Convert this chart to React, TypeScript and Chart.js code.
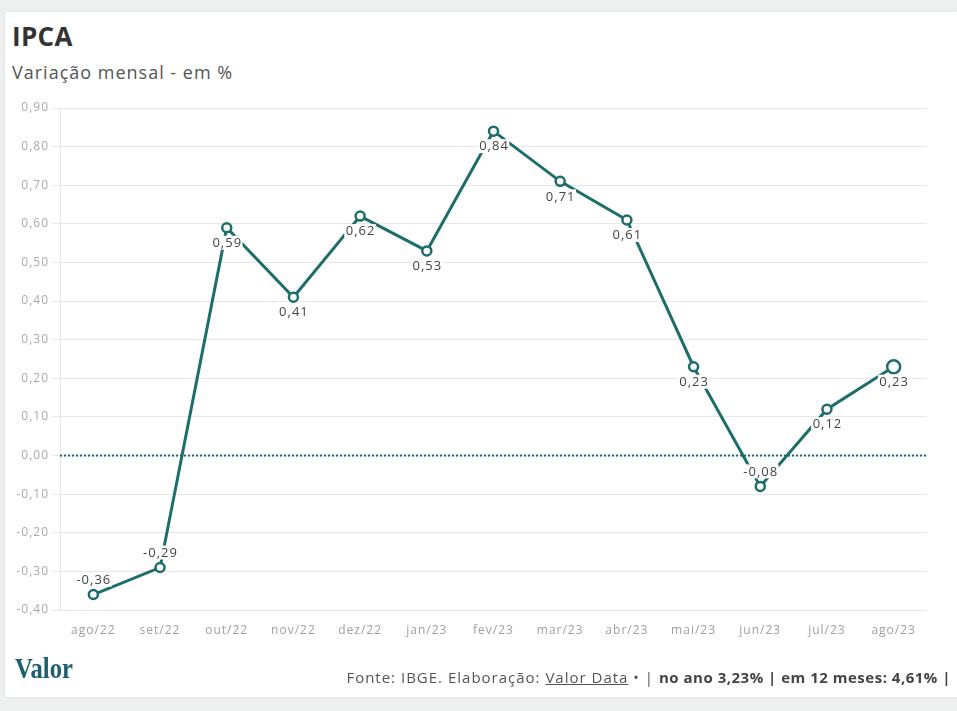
import React, { useEffect, useRef } from "react";
import { Chart, registerables } from "chart.js";

Chart.register(...registerables);

const categories = ["ago/22", "set/22", "out/22", "nov/22", "dez/22", "jan/23", "fev/23", "mar/23", "abr/23", "mai/23", "jun/23", "jul/23", "ago/23"];
const values = [-0.36, -0.29, 0.59, 0.41, 0.62, 0.53, 0.84, 0.71, 0.61, 0.23, -0.08, 0.12, 0.23];
const yMin = -0.4;
const yMax = 0.9;
const yStep = 0.1;

const TEAL = "#1d6e6b";

const fmt = (v: number) => {
  const x = Math.abs(v) < 1e-9 ? 0 : v;
  return x.toFixed(2).replace(".", ",");
};

const spacingPlugin = {
  id: "spacing",
  beforeUpdate(chart: any) {
    chart.ctx.letterSpacing = "1px";
  },
  beforeDraw(chart: any) {
    chart.ctx.letterSpacing = "1px";
  },
};

const zeroLinePlugin = {
  id: "zeroLine",
  beforeDatasetsDraw(chart: any) {
    const { ctx, chartArea, scales } = chart;
    const y = scales.y.getPixelForValue(0);
    ctx.save();
    ctx.strokeStyle = TEAL;
    ctx.lineWidth = 2;
    ctx.setLineDash([2, 2]);
    ctx.beginPath();
    ctx.moveTo(chartArea.left, y);
    ctx.lineTo(chartArea.right, y);
    ctx.stroke();
    ctx.restore();
  },
};

const labelPlugin = {
  id: "valueLabels",
  afterDatasetsDraw(chart: any) {
    const { ctx } = chart;
    const meta = chart.getDatasetMeta(0);
    ctx.save();
    ctx.letterSpacing = "1px";
    ctx.font = "13px 'Open Sans'";
    ctx.textAlign = "center";
    ctx.textBaseline = "middle";
    meta.data.forEach((pt: any, i: number) => {
      const v = values[i];
      const text = fmt(v);
      const dy = v < 0 ? -15 : 15;
      const x = pt.x;
      const y = pt.y + dy;
      const w = ctx.measureText(text).width;
      ctx.fillStyle = "#ffffff";
      ctx.fillRect(x - w / 2 - 1, y - 7, w + 2, 14);
      ctx.fillStyle = "#444444";
      ctx.fillText(text, x + 0.5, y + 0.5);
    });
    ctx.restore();
  },
};

export default function App() {
  const ref = useRef<HTMLCanvasElement>(null);

  useEffect(() => {
    if (!ref.current) return;
    const last = values.length - 1;
    const chart = new Chart(ref.current, {
      type: "line",
      data: {
        labels: categories,
        datasets: [
          {
            data: values,
            borderColor: TEAL,
            borderWidth: 3,
            backgroundColor: "#ffffff",
            pointBackgroundColor: "#ffffff",
            pointBorderColor: TEAL,
            pointBorderWidth: 2.5,
            pointRadius: values.map((_, i) => (i === last ? 6.5 : 4.5)),
            tension: 0,
            fill: false,
          },
        ],
      },
      options: {
        animation: false,
        responsive: false,
        layout: { padding: { top: 108, right: 30, left: 0, bottom: 0 } },
        plugins: { legend: { display: false }, tooltip: { enabled: false } },
        scales: {
          x: {
            type: "category",
            offset: true,
            grid: { display: false, drawTicks: false },
            border: { display: false },
            ticks: {
              color: "#a0a0a0",
              font: { family: "'Open Sans'", size: 12 },
              padding: 13,
              maxRotation: 0,
              autoSkip: false,
            },
            afterFit: (s: any) => {
              s.height = 101;
            },
          },
          y: {
            min: yMin,
            max: yMax,
            grid: { color: "#e8e8e8", lineWidth: 1, drawTicks: true, tickLength: 8, tickColor: "#e8e8e8" },
            border: { display: true, color: "#e4e4e4" },
            ticks: {
              stepSize: yStep,
              color: "#aaaaaa",
              font: { family: "'Open Sans'", size: 12 },
              padding: 3,
              callback: (v: any) => fmt(Number(v)),
            },
            afterFit: (s: any) => {
              s.width = 60;
            },
          },
        },
      },
      plugins: [spacingPlugin, zeroLinePlugin, labelPlugin],
    });
    return () => chart.destroy();
  }, []);

  return (
    <div style={{ position: "fixed", left: 0, top: 0, width: 957, height: 711, background: "#eef0f0", overflow: "hidden", fontFamily: "'Open Sans', sans-serif" }}>
      <div style={{ position: "absolute", left: 5, top: 12, width: 952, height: 685, background: "#ffffff", boxShadow: "0 0 3px rgba(0,0,0,0.08)" }} />
      <div style={{ position: "absolute", left: 12, top: 19, fontSize: 26, fontWeight: 700, color: "#333", lineHeight: "34px", letterSpacing: 0.3 }}>IPCA</div>
      <div style={{ position: "absolute", left: 12, top: 59, fontSize: 18, color: "#555", lineHeight: "26px", letterSpacing: 1 }}>Variação mensal - em %</div>
      <canvas ref={ref} width={957} height={711} style={{ position: "absolute", left: 0, top: 0, width: 957, height: 711 }} />
      <div style={{ position: "absolute", left: 15, top: 651, fontFamily: "'Liberation Serif', serif", fontWeight: 700, fontSize: 30, color: "#1d5f70", lineHeight: "34px", transform: "scaleX(0.82)", transformOrigin: "left top" }}>Valor</div>
      <div style={{ position: "absolute", right: 6, top: 667, fontSize: 15, color: "#555", lineHeight: "20px", whiteSpace: "nowrap", letterSpacing: 1 }}>
        Fonte: IBGE. Elaboração: <span style={{ textDecoration: "underline" }}>Valor Data</span> • | <b style={{ color: "#444", letterSpacing: 0.5 }}>no ano 3,23% | em 12 meses: 4,61% |</b>
      </div>
    </div>
  );
}
